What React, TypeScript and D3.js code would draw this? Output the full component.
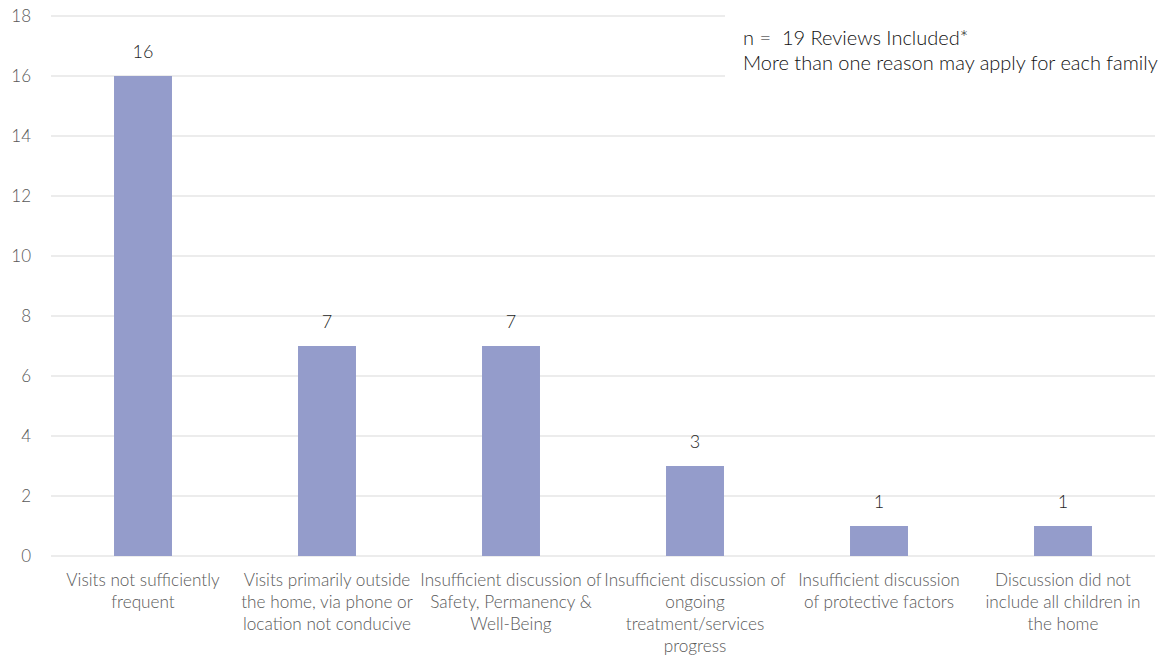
import React from "react";
import * as d3 from "d3";

const categories: string[] = [
  "Visits not sufficiently frequent",
  "Visits primarily outside the home, via phone or location not conducive",
  "Insufficient discussion of Safety, Permanency & Well-Being",
  "Insufficient discussion of ongoing treatment/services progress",
  "Insufficient discussion of protective factors",
  "Discussion did not include all children in the home",
];
const categoryLines: string[][] = [
  ["Visits not sufficiently", "frequent"],
  ["Visits primarily outside", "the home, via phone or", "location not conducive"],
  ["Insufficient discussion of", "Safety, Permanency &", "Well-Being"],
  ["Insufficient discussion of", "ongoing", "treatment/services", "progress"],
  ["Insufficient discussion", "of protective factors"],
  ["Discussion did not", "include all children in", "the home"],
];
const values: number[] = [16, 7, 7, 3, 1, 1];
const yTicks: number[] = [0, 2, 4, 6, 8, 10, 12, 14, 16, 18];
const noteLines: string[] = [
  "n =  19 Reviews Included*",
  "More than one reason may apply for each family",
];

const W = 1172;
const H = 660;
const FONT = "Lato, 'Open Sans', sans-serif";

export default function App() {
  const x = d3.scaleBand<string>().domain(categories).range([51, 1155]).padding(0);
  const y = d3.scaleLinear().domain([0, 18]).range([556, 16]);
  const barW = x.bandwidth() * 0.315;

  return (
    <svg
      width={W}
      height={H}
      style={{ position: "absolute", left: 0, top: 0, background: "#fff" }}
      fontFamily={FONT}
      fontWeight={300}
    >
      <rect x={0} y={0} width={W} height={H} fill="#fff" />
      {yTicks.map((t) => (
        <g key={t}>
          <line x1={51} x2={1155} y1={y(t)} y2={y(t)} stroke="#d9d9d9" strokeWidth={1} />
          <text
            x={31}
            y={y(t)}
            dy="0.35em"
            textAnchor="end"
            fontSize={17}
            fill="#595959"
          >
            {t}
          </text>
        </g>
      ))}
      {categories.map((c, i) => {
        const cx = (x(c) as number) + x.bandwidth() / 2;
        return (
          <g key={c}>
            <rect
              x={cx - barW / 2}
              y={y(values[i])}
              width={barW}
              height={y(0) - y(values[i])}
              fill="#949ccb"
            />
            <text
              x={cx}
              y={y(values[i]) - 18}
              textAnchor="middle"
              fontSize={18}
              fill="#1f1f1f"
            >
              {values[i]}
            </text>
            {categoryLines[i].map((ln, j) => (
              <text
                key={j}
                x={cx}
                y={586 + j * 22}
                textAnchor="middle"
                fontSize={17.2}
                fill="#595959"
              >
                {ln}
              </text>
            ))}
          </g>
        );
      })}
      <rect x={725} y={0} width={W - 725} height={100} fill="#fff" />
      {noteLines.map((ln, j) => (
        <text
          key={j}
          x={743}
          y={45 + j * 25}
          fontSize={20}
          fill="#111"
          style={{ whiteSpace: "pre" }}
        >
          {ln}
        </text>
      ))}
    </svg>
  );
}
